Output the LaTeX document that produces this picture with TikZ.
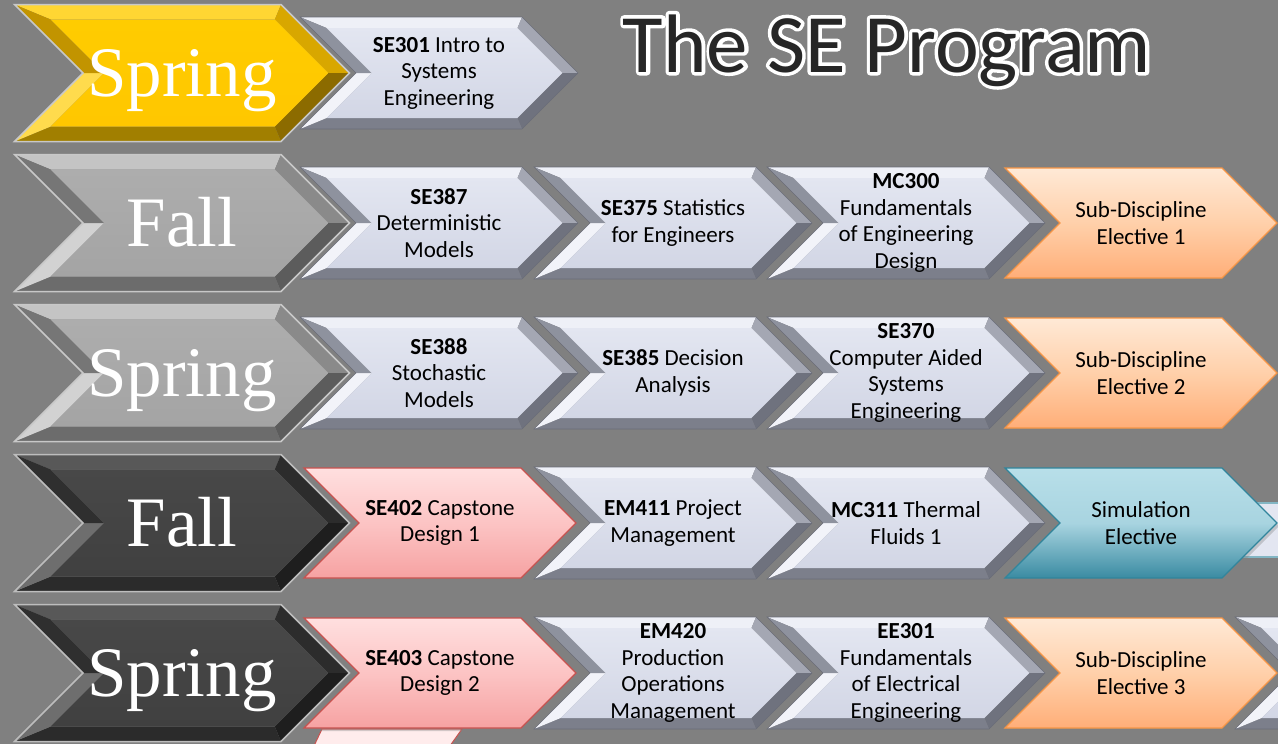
\documentclass[tikz,border=0pt]{standalone}
\usepackage{fontspec}
\setmainfont{Carlito}
\newfontfamily\seasonfont{Liberation Serif}
\usetikzlibrary{positioning, shapes.symbols, shadows}

% face and bevel colours: top, right-up, right-low, bottom, notch-up, notch-low, face a/b
\definecolor{lavtop}{HTML}{EEF0F7}\definecolor{lavrup}{HTML}{A4A7B3}\definecolor{lavrlo}{HTML}{6F727E}
\definecolor{lavbot}{HTML}{7C7F8B}\definecolor{lavnup}{HTML}{8E929E}\definecolor{lavnlo}{HTML}{F2F3F9}
\definecolor{lavfa}{HTML}{E3E6F1}\definecolor{lavfb}{HTML}{D2D6E5}\definecolor{lavedge}{HTML}{6A6D78}
\definecolor{goldtop}{HTML}{FFD633}\definecolor{goldrup}{HTML}{D8A700}\definecolor{goldrlo}{HTML}{8C6B00}
\definecolor{goldbot}{HTML}{A17F00}\definecolor{goldnup}{HTML}{C29400}\definecolor{goldnlo}{HTML}{FFDB4D}
\definecolor{goldfa}{HTML}{FFCC00}\definecolor{goldfb}{HTML}{FFC700}\definecolor{goldrim}{HTML}{C8C8C8}
\definecolor{silvertop}{HTML}{C4C4C4}\definecolor{silverrup}{HTML}{8A8A8A}\definecolor{silverrlo}{HTML}{5C5C5C}
\definecolor{silverbot}{HTML}{6C6C6C}\definecolor{silvernup}{HTML}{767676}\definecolor{silvernlo}{HTML}{D2D2D2}
\definecolor{silverfa}{HTML}{ADADAD}\definecolor{silverfb}{HTML}{A4A4A4}\definecolor{silverrim}{HTML}{C8C8C8}
\definecolor{coaltop}{HTML}{585858}\definecolor{coalrup}{HTML}{2C2C2C}\definecolor{coalrlo}{HTML}{1E1E1E}
\definecolor{coalbot}{HTML}{2B2B2B}\definecolor{coalnup}{HTML}{2F2F2F}\definecolor{coalnlo}{HTML}{6E6E6E}
\definecolor{coalfa}{HTML}{484848}\definecolor{coalfb}{HTML}{404040}\definecolor{coalrim}{HTML}{BDBDBD}
% flat electives
\definecolor{peachtop}{HTML}{FFE9D6}\definecolor{peachmid}{HTML}{FFD0AA}\definecolor{peachbot}{HTML}{FFAE78}\definecolor{peachedge}{HTML}{F79646}
\definecolor{rosetop}{HTML}{FFDFDF}\definecolor{rosemid}{HTML}{FCC4C4}\definecolor{rosebot}{HTML}{F6A2A2}\definecolor{roseedge}{HTML}{C9524F}
\definecolor{tealtop}{HTML}{B8DFE9}\definecolor{tealmid}{HTML}{A8D4E0}\definecolor{tealbot}{HTML}{3A8BA2}\definecolor{tealedge}{HTML}{31859C}
\definecolor{bg}{HTML}{808080}

% bevelled chevron facets: half width, half height, bevel, colour prefix
\newcommand{\bevel}[4]{%
  \begin{scope}[shift={(path picture bounding box.center)}]
    \coordinate (bA) at (-#1pt, #2pt);
    \coordinate (bB) at (#1pt-#2pt, #2pt);
    \coordinate (bT) at (#1pt, 0pt);
    \coordinate (bC) at (#1pt-#2pt, -#2pt);
    \coordinate (bD) at (-#1pt, -#2pt);
    \coordinate (bN) at (-#1pt+#2pt, 0pt);
    \coordinate (iA) at (-#1pt+2.414*#3pt, #2pt-#3pt);
    \coordinate (iB) at (#1pt-#2pt-0.414*#3pt, #2pt-#3pt);
    \coordinate (iT) at (#1pt-1.414*#3pt, 0pt);
    \coordinate (iC) at (#1pt-#2pt-0.414*#3pt, -#2pt+#3pt);
    \coordinate (iD) at (-#1pt+2.414*#3pt, -#2pt+#3pt);
    \coordinate (iN) at (-#1pt+#2pt+1.414*#3pt, 0pt);
    \fill[#4top] (bA) -- (bB) -- (iB) -- (iA) -- cycle;
    \fill[#4rup] (bB) -- (bT) -- (iT) -- (iB) -- cycle;
    \fill[#4rlo] (bT) -- (bC) -- (iC) -- (iT) -- cycle;
    \fill[#4bot] (bC) -- (bD) -- (iD) -- (iC) -- cycle;
    \fill[#4nlo] (bD) -- (bN) -- (iN) -- (iD) -- cycle;
    \fill[#4nup] (bN) -- (bA) -- (iA) -- (iN) -- cycle;
    \shade[top color=#4fa, bottom color=#4fb] (iA) -- (iB) -- (iT) -- (iC) -- (iD) -- (iN) -- cycle;
  \end{scope}}

% dark letters with a white rim: stroked copy underneath, plain copy on top
\newcommand{\rimmed}[1]{\leavevmode
  \rlap{\special{pdf:literal direct 1 1 1 RG 7 w 1 j 2 Tr}#1\special{pdf:literal direct 0 Tr}}#1}

\begin{document}
\begin{tikzpicture}[x=1pt, y=-1pt,
  chevron/.style={signal, signal from=west, signal to=east, signal pointer angle=90, inner sep=0pt},
  season/.style={chevron, minimum width=335pt, minimum height=137pt, draw=#1rim, line width=1.5pt,
    drop shadow={opacity=0.35, shadow xshift=2pt, shadow yshift=-3pt},
    path picture={\bevel{167.5}{68.5}{15}{#1}}},
  term/.style={font=\seasonfont\fontsize{71}{80}\selectfont, text=white, anchor=base},
  course/.style={chevron, minimum width=278pt, minimum height=112pt, draw=lavedge, line width=0.6pt,
    drop shadow={opacity=0.3, shadow xshift=2pt, shadow yshift=-3pt},
    path picture={\bevel{139}{56}{11}{lav}}},
  elective/.style={chevron, minimum width=272pt, minimum height=110pt, draw=#1edge, line width=1.2pt,
    top color=#1top, bottom color=#1bot, middle color=#1mid,
    drop shadow={opacity=0.35, shadow xshift=2pt, shadow yshift=-3pt}},
  info/.style={align=center, inner sep=0pt, font=\fontsize{23}{26.5}\selectfont},
  heading/.style={font=\fontsize{83}{90}\selectfont, anchor=base}
]
\useasboundingbox (0,0) rectangle (1278,744);
\fill[bg] (0,0) rectangle (1278,744);
\clip (0,0) rectangle (1278,744);

% title
\node[heading, text=black!85] (title) at (887,72) {\rimmed{The SE Program}};

% pieces running off the page
\fill[lavfa, draw=tealedge!60, line width=1.5pt] (1230,503) rectangle (1290,557);
\node[course] (next) at (1374,673) {};
\fill[rosetop!60, draw=roseedge, line width=1pt] (322,729) -- (462,729) -- (447,750) -- (312,750) -- cycle;

% first year, spring
\node[season=gold] (spring1) at (182,73) {};
\node[term] (spring1txt) at ([yshift=-23pt]spring1.center) {Spring};
\node[course] (se301) at (439,73) {};
\node[info] (se301txt) at (se301.center) {\textbf{SE301} Intro to\\Systems\\Engineering};

% fall
\node[season=silver] (fall2) at (182,223) {};
\node[term] (fall2txt) at ([yshift=-23pt]fall2.center) {Fall};
\node[course] (se387) at (439,223) {};
\node[info] (se387txt) at (se387.center) {\textbf{SE387}\\Deterministic\\Models};
\node[course] (se375) at (673,223) {};
\node[info] (se375txt) at (se375.center) {\textbf{SE375} Statistics\\for Engineers};
\node[course] (mc300) at (906,223) {};
\node[info] (mc300txt) at (mc300.center) {\textbf{MC300}\\Fundamentals\\of Engineering\\Design};
\node[elective=peach] (sd1) at (1141,223) {};
\node[info] (sd1txt) at (sd1.center) {Sub-Discipline\\Elective 1};

% spring
\node[season=silver] (spring2) at (182,373) {};
\node[term] (spring2txt) at ([yshift=-23pt]spring2.center) {Spring};
\node[course] (se388) at (439,373) {};
\node[info] (se388txt) at (se388.center) {\textbf{SE388}\\Stochastic\\Models};
\node[course] (se385) at (673,373) {};
\node[info] (se385txt) at (se385.center) {\textbf{SE385} Decision\\Analysis};
\node[course] (se370) at (906,373) {};
\node[info] (se370txt) at (se370.center) {\textbf{SE370}\\Computer Aided\\Systems\\Engineering};
\node[elective=peach] (sd2) at (1141,373) {};
\node[info] (sd2txt) at (sd2.center) {Sub-Discipline\\Elective 2};

% fall
\node[season=coal] (fall3) at (182,523) {};
\node[term] (fall3txt) at ([yshift=-23pt]fall3.center) {Fall};
\node[elective=rose] (se402) at (440,523) {};
\node[info] (se402txt) at (se402.center) {\textbf{SE402} Capstone\\Design 1};
\node[course] (em411) at (673,523) {};
\node[info] (em411txt) at (em411.center) {\textbf{EM411} Project\\Management};
\node[course] (mc311) at (906,523) {};
\node[info] (mc311txt) at (mc311.center) {\textbf{MC311} Thermal\\Fluids 1};
\node[elective=teal] (sim) at (1141,523) {};
\node[info] (simtxt) at (sim.center) {Simulation\\Elective};

% spring
\node[season=coal] (spring3) at (182,673) {};
\node[term] (spring3txt) at ([yshift=-23pt]spring3.center) {Spring};
\node[elective=rose] (se403) at (440,673) {};
\node[info] (se403txt) at (se403.center) {\textbf{SE403} Capstone\\Design 2};
\node[course] (em420) at (673,673) {};
\node[info] (em420txt) at (em420.center) {\textbf{EM420}\\Production\\Operations\\Management};
\node[course] (ee301) at (906,673) {};
\node[info] (ee301txt) at (ee301.center) {\textbf{EE301}\\Fundamentals\\of Electrical\\Engineering};
\node[elective=peach] (sd3) at (1141,673) {};
\node[info] (sd3txt) at (sd3.center) {Sub-Discipline\\Elective 3};

\end{tikzpicture}
\end{document}
